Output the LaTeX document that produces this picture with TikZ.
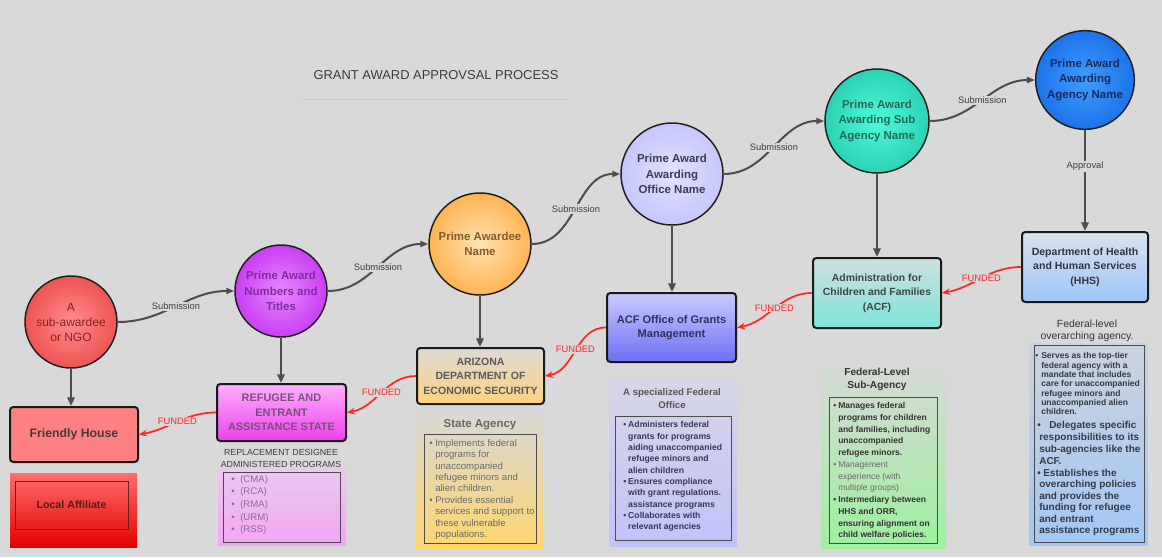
\documentclass[tikz,border=0pt]{standalone}
\usepackage{fontspec}
\setmainfont{Liberation Sans}
\usetikzlibrary{arrows.meta}
\definecolor{bgc}{RGB}{217,217,217}
\definecolor{arrg}{RGB}{77,77,77}
\definecolor{fred}{RGB}{255,38,38}
\definecolor{labg}{RGB}{64,64,64}
\definecolor{titc}{RGB}{60,60,60}
\definecolor{linec}{RGB}{200,200,200}
% circles
\definecolor{Ain}{RGB}{255,140,140}
\definecolor{Aout}{RGB}{230,55,55}
\definecolor{Atx}{RGB}{135,35,35}
\definecolor{Nin}{RGB}{232,135,255}
\definecolor{Nout}{RGB}{186,24,238}
\definecolor{Ntx}{RGB}{125,45,160}
\definecolor{Win}{RGB}{255,226,180}
\definecolor{Wout}{RGB}{255,156,30}
\definecolor{Wtx}{RGB}{135,88,42}
\definecolor{Oin}{RGB}{226,226,255}
\definecolor{Oout}{RGB}{184,184,252}
\definecolor{Otx}{RGB}{58,58,92}
\definecolor{Tin}{RGB}{80,248,220}
\definecolor{Tout}{RGB}{24,190,160}
\definecolor{Ttx}{RGB}{31,107,90}
\definecolor{Bin}{RGB}{62,156,255}
\definecolor{Bout}{RGB}{12,94,220}
\definecolor{Btx}{RGB}{26,42,92}
% boxes
\definecolor{FHf}{RGB}{255,128,128}
\definecolor{FHtx}{RGB}{74,56,56}
\definecolor{LAtop}{RGB}{255,110,110}
\definecolor{LAmid}{RGB}{242,40,40}
\definecolor{LAbot}{RGB}{228,0,0}
\definecolor{LAtx}{RGB}{80,30,30}
\definecolor{LAbr}{RGB}{110,30,30}
\definecolor{Rtop}{RGB}{255,176,255}
\definecolor{Rbot}{RGB}{236,64,236}
\definecolor{Rtx}{RGB}{122,79,122}
\definecolor{Ztop}{RGB}{222,218,214}
\definecolor{Zbot}{RGB}{255,210,122}
\definecolor{Ztx}{RGB}{90,90,90}
\definecolor{Gtop}{RGB}{202,202,255}
\definecolor{Gbot}{RGB}{110,110,245}
\definecolor{Gtx}{RGB}{47,47,95}
\definecolor{Ctop}{RGB}{207,224,224}
\definecolor{Cbot}{RGB}{127,227,218}
\definecolor{Ctx}{RGB}{58,69,69}
\definecolor{Htop}{RGB}{220,226,238}
\definecolor{Hbot}{RGB}{156,198,248}
\definecolor{Htx}{RGB}{51,51,68}
% panels
\definecolor{Ptop}{RGB}{236,200,238}
\definecolor{Pbot}{RGB}{242,166,244}
\definecolor{Ptx}{RGB}{138,106,154}
\definecolor{Stop}{RGB}{217,216,214}
\definecolor{Sbot}{RGB}{255,214,112}
\definecolor{Stx}{RGB}{106,106,106}
\definecolor{Otop}{RGB}{214,214,232}
\definecolor{Obot}{RGB}{194,194,250}
\definecolor{Oitx}{RGB}{56,56,88}
\definecolor{Utop}{RGB}{217,217,217}
\definecolor{Ubot}{RGB}{158,240,158}
\definecolor{Utx}{RGB}{51,51,51}
\definecolor{Ugr}{RGB}{106,106,106}
\definecolor{Vtop}{RGB}{204,210,222}
\definecolor{Vbot}{RGB}{162,200,246}
\definecolor{Vtx}{RGB}{51,58,72}
\definecolor{plabc}{RGB}{60,60,60}
\definecolor{plabs}{RGB}{102,102,102}
\definecolor{plabo}{RGB}{85,85,85}
\pgfdeclareradialshading{shA}{\pgfpoint{0bp}{0bp}}{color(0bp)=(Ain); color(38bp)=(Aout); color(50bp)=(Aout)}
\pgfdeclareradialshading{shN}{\pgfpoint{0bp}{0bp}}{color(0bp)=(Nin); color(38bp)=(Nout); color(50bp)=(Nout)}
\pgfdeclareradialshading{shW}{\pgfpoint{0bp}{0bp}}{color(0bp)=(Win); color(38bp)=(Wout); color(50bp)=(Wout)}
\pgfdeclareradialshading{shO}{\pgfpoint{0bp}{0bp}}{color(0bp)=(Oin); color(38bp)=(Oout); color(50bp)=(Oout)}
\pgfdeclareradialshading{shT}{\pgfpoint{0bp}{0bp}}{color(0bp)=(Tin); color(38bp)=(Tout); color(50bp)=(Tout)}
\pgfdeclareradialshading{shB}{\pgfpoint{0bp}{0bp}}{color(0bp)=(Bin); color(38bp)=(Bout); color(50bp)=(Bout)}
\newcommand\bl[1][4.5pt]{\makebox[#1][l]{\textbullet}}
\newcommand\sk[1][4.5pt]{\hspace*{#1}}
\begin{document}
\begin{tikzpicture}[x=0.75pt,y=-0.75pt,
 circ/.style={circle, draw=black!88, line width=1.1pt, align=center, inner sep=0pt},
 ctext/.style={font=\fontsize{8.6}{11.6}\selectfont\bfseries},
 box/.style={rectangle, rounded corners=2.5pt, draw=black!90, line width=1.5pt, align=center, inner sep=0pt},
 panel/.style={rectangle, inner sep=0pt},
 ibox/.style={rectangle, draw=black!70, line width=0.6pt, inner sep=0pt},
 itext/.style={anchor=north west, inner sep=0pt, align=left},
 plab/.style={align=center, inner sep=0pt},
 vdown/.style={draw=arrg, line width=2pt, -{Triangle[length=6.5pt,width=5.5pt]}},
 subm/.style={draw=arrg, line width=1.5pt, -{Triangle[length=6pt,width=4.5pt]}},
 fund/.style={draw=fred, line width=1.3pt, -{Stealth[length=6pt,width=5pt]}},
 slab/.style={fill=bgc, inner sep=1pt, font=\fontsize{7}{8}\selectfont, text=labg},
 flab/.style={fill=bgc, inner sep=0.8pt, font=\fontsize{7}{8}\selectfont, text=fred},
]
\fill[bgc] (0,0) rectangle (1162,557);
\useasboundingbox (0,0) rectangle (1162,557);

% title
\node[font=\fontsize{9.7}{11}\selectfont, text=titc] (title) at (436,75) {GRANT AWARD APPROVSAL PROCESS};
\draw[linec, line width=0.75pt] (303,99) -- (568,99);

% circles
\node[circ, minimum size=69pt, shading=shA, text=Atx, font=\fontsize{9}{11.2}\selectfont] (cA) at (71,322) {A\\sub-awardee\\or NGO};
\node[circ, ctext, minimum size=69pt, shading=shN, text=Ntx] (cN) at (281,291) {Prime Award\\Numbers and\\Titles};
\node[circ, ctext, minimum size=76.5pt, shading=shW, text=Wtx] (cW) at (480,244) {Prime Awardee\\Name};
\node[circ, ctext, minimum size=76.5pt, shading=shO, text=Otx] (cO) at (672,174) {Prime Award\\Awarding\\Office Name};
\node[circ, ctext, minimum size=78pt, shading=shT, text=Ttx] (cT) at (877,121) {Prime Award\\Awarding Sub\\Agency Name};
\node[circ, ctext, minimum size=74pt, shading=shB, text=Btx] (cB) at (1085,80) {Prime Award\\Awarding\\Agency Name};

% boxes
\node[box, minimum width=96pt, minimum height=41.25pt, fill=FHf, text=FHtx, font=\fontsize{9.2}{11}\selectfont\bfseries] (fh) at (74,434.5) {Friendly House};
\node[panel, minimum width=95.25pt, minimum height=55.5pt, top color=LAtop, middle color=LAmid, bottom color=LAbot] (la) at (73.5,510) {};
\node[ibox, draw=LAbr, minimum width=84.75pt, minimum height=36pt, text=LAtx, font=\fontsize{8}{10}\selectfont\bfseries] (lai) at (71.5,505) {Local Affiliate};
\node[box, minimum width=96.75pt, minimum height=42.75pt, top color=Rtop, bottom color=Rbot, text=Rtx, font=\fontsize{8.2}{10.9}\selectfont\bfseries] (ref) at (281.5,412.5) {REFUGEE AND\\ENTRANT\\ASSISTANCE STATE};
\node[box, minimum width=95.25pt, minimum height=42pt, top color=Ztop, bottom color=Zbot, text=Ztx, font=\fontsize{7.9}{10.9}\selectfont\bfseries] (az) at (480.5,376) {ARIZONA\\DEPARTMENT OF\\ECONOMIC SECURITY};
\node[box, minimum width=96.75pt, minimum height=51.75pt, top color=Gtop, bottom color=Gbot, text=Gtx, font=\fontsize{8.3}{10.3}\selectfont\bfseries] (gm) at (671.5,327.5) {ACF Office of Grants\\Management};
\node[box, minimum width=96pt, minimum height=52.5pt, top color=Ctop, bottom color=Cbot, text=Ctx, font=\fontsize{7.8}{10.9}\selectfont\bfseries] (acf) at (877,293) {Administration for\\Children and Families\\(ACF)};
\node[box, minimum width=94.5pt, minimum height=52.5pt, top color=Htop, bottom color=Hbot, text=Htx, font=\fontsize{7.9}{10.9}\selectfont\bfseries] (hhs) at (1085,267) {Department of Health\\and Human Services\\(HHS)};

% programs panel
\node[plab, text=plabc, font=\fontsize{6.6}{9}\selectfont] (progl) at (281,458) {REPLACEMENT DESIGNEE\\ADMINISTERED PROGRAMS};
\node[panel, minimum width=96pt, minimum height=57.75pt, top color=Ptop, bottom color=Pbot] (progp) at (282,506.5) {};
\node[ibox, minimum width=87.75pt, minimum height=52.5pt] (progb) at (281.5,507) {};
\node[itext, text=Ptx, font=\fontsize{7.2}{9.4}\selectfont] (progt) at (231,475.2) {\bl[6.75pt](CMA)\\\bl[6.75pt](RCA)\\\bl[6.75pt](RMA)\\\bl[6.75pt](URM)\\\bl[6.75pt](RSS)};

% state agency panel
\node[panel, minimum width=95.25pt, minimum height=102pt, top color=Stop, bottom color=Sbot] (stp) at (479.5,480) {};
\node[plab, text=plabs, font=\fontsize{8.6}{10}\selectfont\bfseries] (stl) at (480,425) {State Agency};
\node[ibox, minimum width=84pt, minimum height=81.75pt] (stb) at (480,488.5) {};
\node[itext, text=Stx, font=\fontsize{7.2}{8.6}\selectfont] (stt) at (429,438.9) {\bl Implements federal\\\sk programs for\\\sk unaccompanied\\\sk refugee minors and\\\sk alien children.\\\bl Provides essential\\\sk services and support to\\\sk these vulnerable\\\sk populations.};

% federal office panel
\node[panel, minimum width=96pt, minimum height=124.5pt, top color=Otop, bottom color=Obot] (ofp) at (673,463) {};
\node[plab, text=plabo, font=\fontsize{7.2}{9.75}\selectfont\bfseries] (ofl) at (672,398.5) {A specialized Federal\\Office};
\node[ibox, minimum width=87pt, minimum height=93pt] (ofb) at (673,478) {};
\node[itext, text=Oitx, font=\fontsize{6.5}{8.5}\selectfont\bfseries] (oft) at (623,421.3) {\bl[3.7pt]Administers federal\\\sk[3.7pt]grants for programs\\\sk[3.7pt]aiding unaccompanied\\\sk[3.7pt]refugee minors and\\\sk[3.7pt]alien children\\\bl[3.7pt]Ensures compliance\\\sk[3.7pt]with grant regulations.\\\sk[3.7pt]assistance programs\\\bl[3.7pt]Collaborates with\\\sk[3.7pt]relevant agencies};

% sub-agency panel
\node[panel, minimum width=93.75pt, minimum height=141pt, top color=Utop, bottom color=Ubot] (sap) at (883.5,454) {};
\node[plab, text=Utx, font=\fontsize{7.6}{9.75}\selectfont\bfseries] (sal) at (877,379.5) {Federal-Level\\Sub-Agency};
\node[ibox, minimum width=81pt, minimum height=109.5pt] (sab) at (883,470) {};
\node[itext, text=Utx, font=\fontsize{6.4}{8.8}\selectfont\bfseries] (sat) at (833,402.3) {\bl[3.75pt]Manages federal\\\sk[3.75pt]programs for children\\\sk[3.75pt]and families, including\\\sk[3.75pt]unaccompanied\\\sk[3.75pt]refugee minors.\\{\mdseries\color{Ugr}\bl[3.75pt]Management}\\{\mdseries\color{Ugr}\sk[3.75pt]experience (with}\\{\mdseries\color{Ugr}\sk[3.75pt]multiple groups)}\\\bl[3.75pt]Intermediary between\\\sk[3.75pt]HHS and ORR,\\\sk[3.75pt]ensuring alignment on\\\sk[3.75pt]child welfare policies.};

% HHS panel
\node[plab, text=Utx, font=\fontsize{7.8}{9}\selectfont] (hhl) at (1087,331) {Federal-level\\overarching agency.};
\node[panel, minimum width=89.25pt, minimum height=151.5pt, top color=Vtop, bottom color=Vbot] (hhp) at (1088.5,444) {};
\node[ibox, minimum width=82.5pt, minimum height=147.75pt] (hhb) at (1089,443.5) {};
\node[itext, text=Vtx, font=\fontsize{6.4}{7}\selectfont\bfseries] (hht1) at (1035,352.3) {\bl Serves as the top-tier\\\sk federal agency with a\\\sk mandate that includes\\\sk care for unaccompanied\\\sk refugee minors and\\\sk unaccompanied alien\\\sk children.};
\node[itext, text=Vtx, font=\fontsize{7.5}{9}\selectfont\bfseries] (hht2) at (1037,420.7) {\bl[9pt]Delegates specific\\\sk[1.5pt]responsibilities to its\\\sk[1.5pt]sub-agencies like the\\\sk[1.5pt]ACF.};
\node[itext, text=Vtx, font=\fontsize{7.5}{8.6}\selectfont\bfseries] (hht3) at (1037,469) {\bl Establishes the\\\sk[1.5pt]overarching policies\\\sk[1.5pt]and provides the\\\sk[1.5pt]funding for refugee\\\sk[1.5pt]and entrant\\\sk[1.5pt]assistance programs};

% vertical arrows
\draw[vdown] (cA.south) -- (cA.south |- fh.north);
\draw[vdown] (cN.south) -- (cN.south |- ref.north);
\draw[vdown] (cW.south) -- (cW.south |- az.north);
\draw[vdown] (cO.south) -- (cO.south |- gm.north);
\draw[vdown] (cT.south) -- (cT.south |- acf.north);
\draw[vdown] (cB.south) -- node[slab, pos=0.36] (apl) {Approval} (cB.south |- hhs.north);

% submission arrows
\draw[subm] (cA.east) to[out=0,in=180] node[slab] (s1) {Submission} (cN.west);
\draw[subm] (cN.east) to[out=0,in=180] node[slab] (s2) {Submission} (cW.west);
\draw[subm] (cW.east) to[out=0,in=180] node[slab] (s3) {Submission} (cO.west);
\draw[subm] (cO.east) to[out=0,in=180] node[slab] (s4) {Submission} (cT.west);
\draw[subm] (cT.east) to[out=0,in=180] node[slab] (s5) {Submission} (cB.west);

% funded arrows
\draw[fund] (hhs.west) to[out=180,in=10] node[flab] (f1) {FUNDED} (acf.east);
\draw[fund] (acf.west) to[out=180,in=10] node[flab] (f2) {FUNDED} (gm.east);
\draw[fund] (gm.west) to[out=180,in=10] node[flab] (f3) {FUNDED} (az.east);
\draw[fund] (az.west) to[out=180,in=10] node[flab] (f4) {FUNDED} (ref.east);
\draw[fund] (ref.west) to[out=180,in=10] node[flab] (f5) {FUNDED} (fh.east);
\end{tikzpicture}
\end{document}
